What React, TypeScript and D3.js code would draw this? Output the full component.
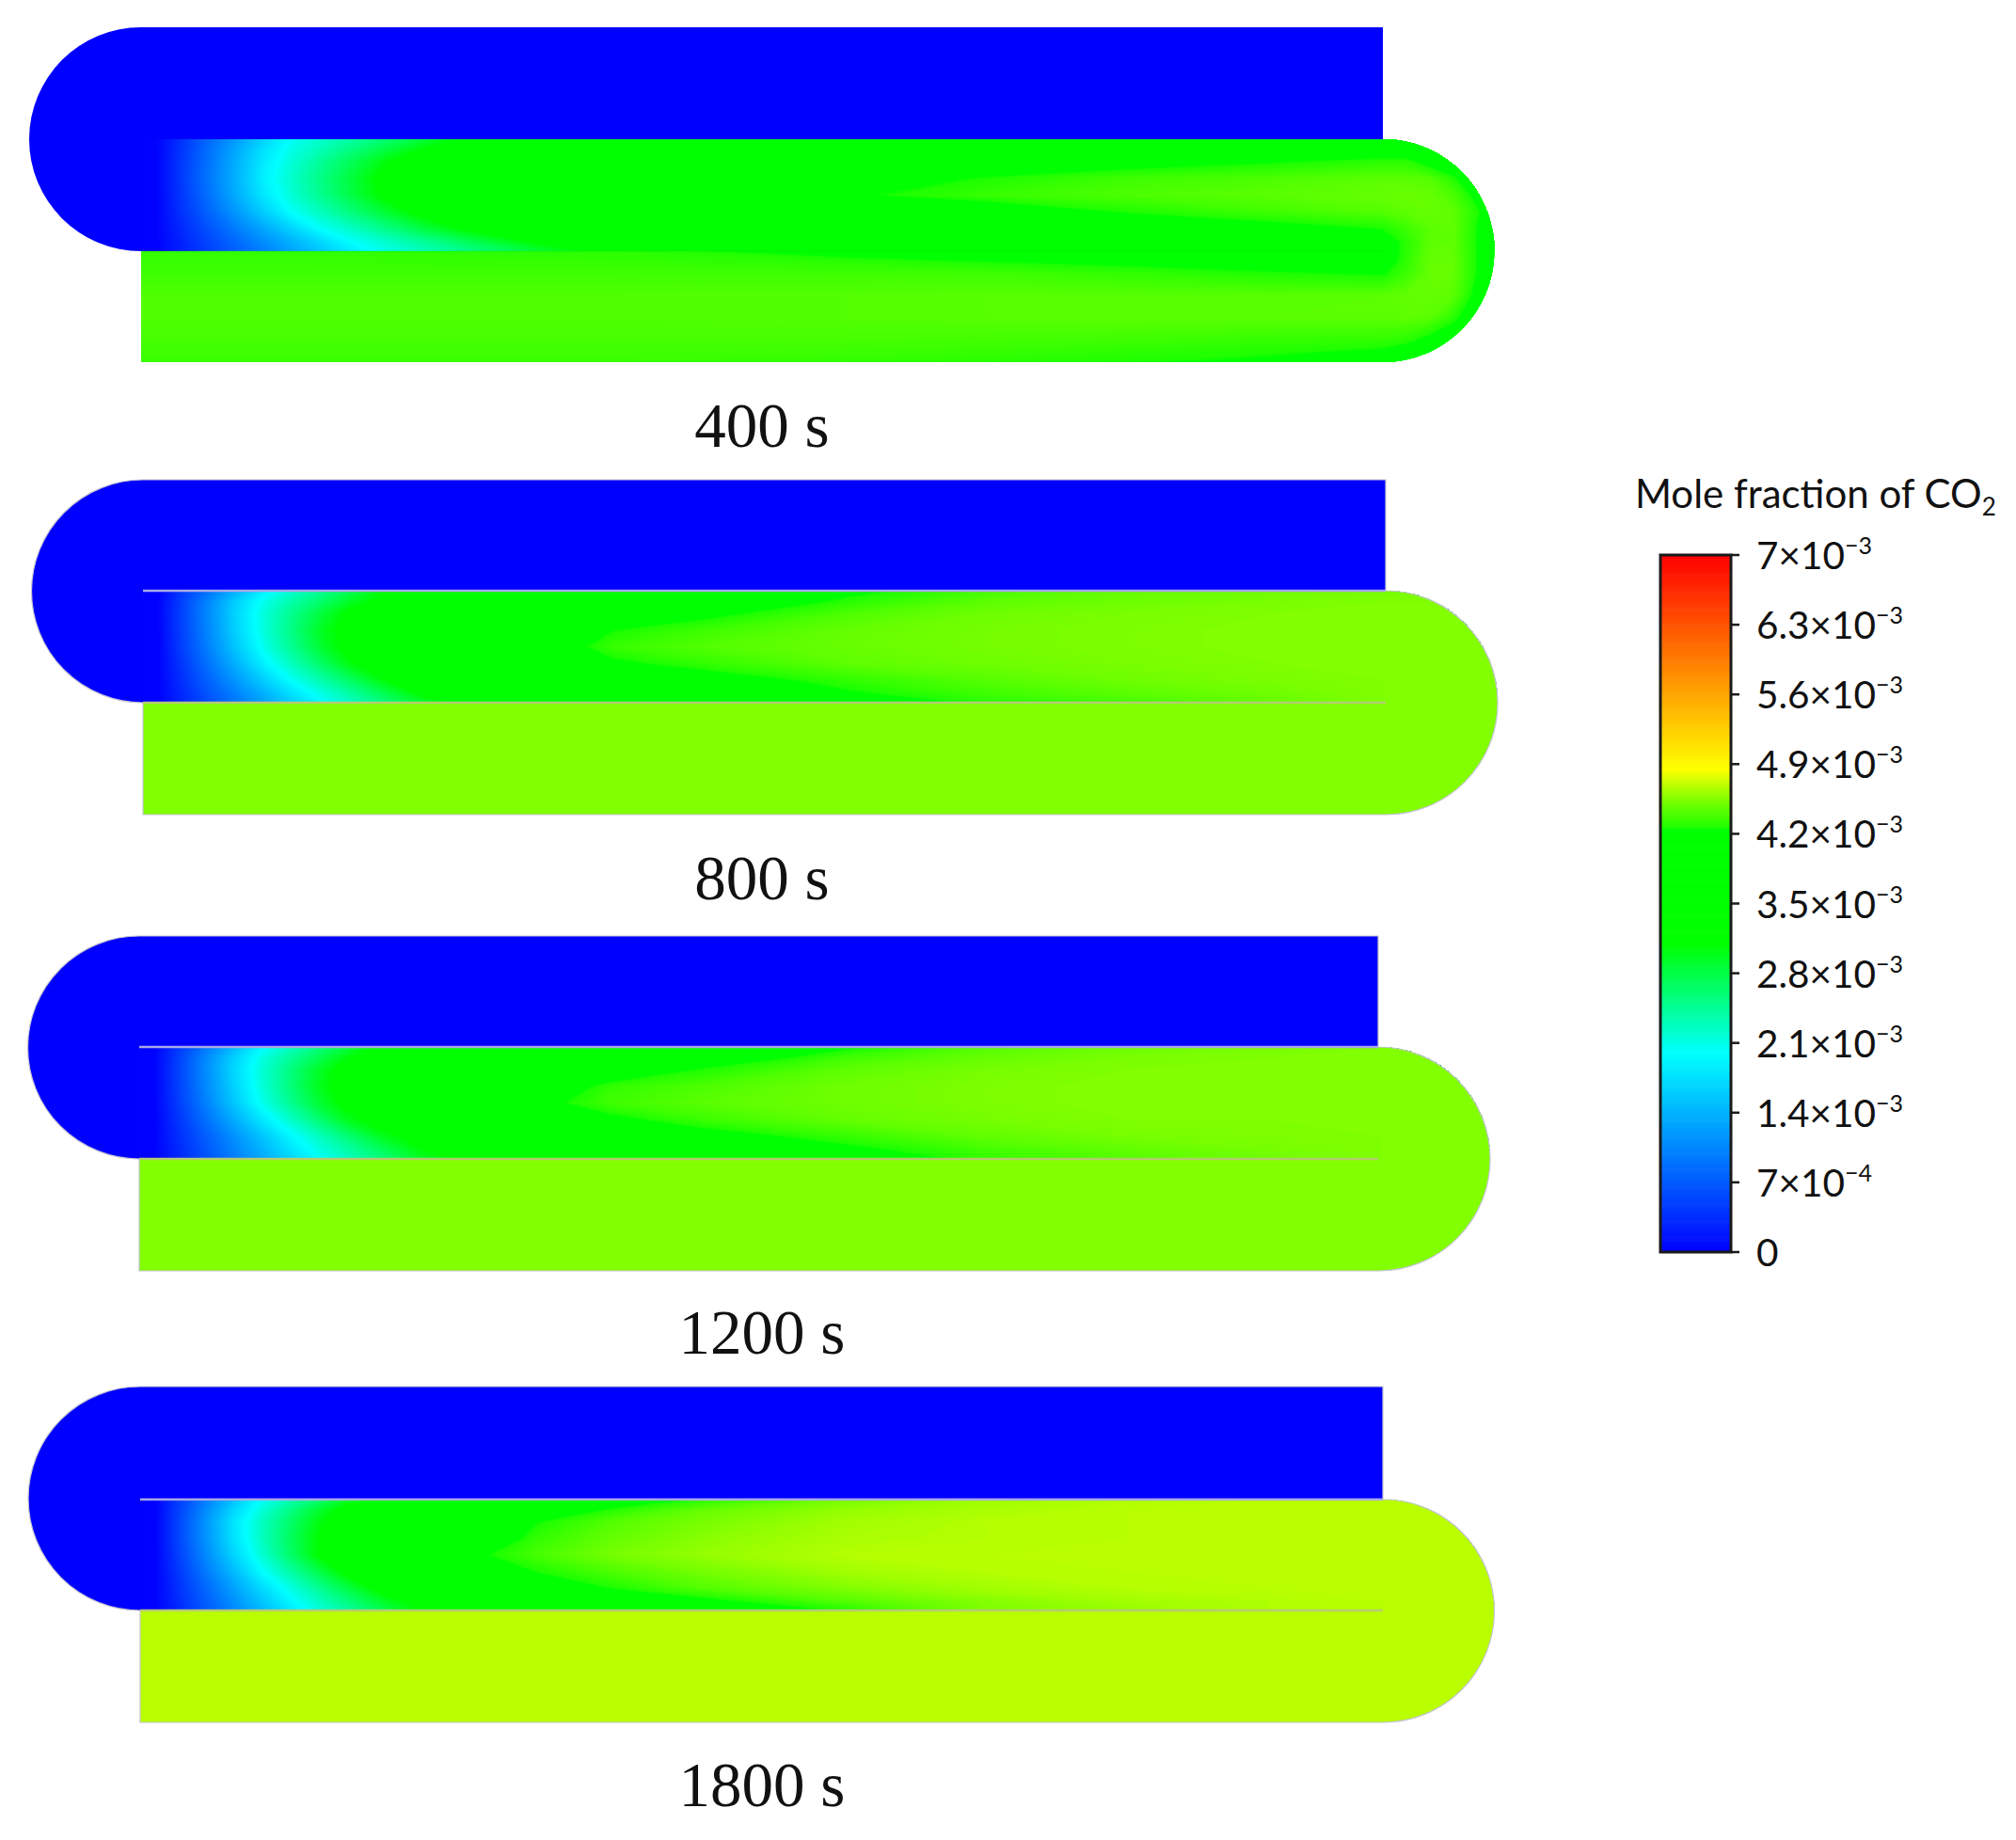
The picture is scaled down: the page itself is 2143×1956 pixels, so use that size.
import * as d3 from 'd3';

// mole fraction values are in units of 1e-3
const colourValues = [0, 2.0, 3.1, 4.25, 4.262, 4.55, 4.85, 7];
const colourStops = ['#0000ff', '#00ffff', '#00ff00', '#00ff00', '#1cff00', '#80ff00', '#ffff00', '#ff0000'];

const barTicks = [0, 0.7, 1.4, 2.1, 2.8, 3.5, 4.2, 4.9, 5.6, 6.3, 7];
const barBases = ['0', '7×10', '1.4×10', '2.1×10', '2.8×10', '3.5×10', '4.2×10', '4.9×10', '5.6×10', '6.3×10', '7×10'];
const barExps = ['', '−4', '−3', '−3', '−3', '−3', '−3', '−3', '−3', '−3', '−3'];

// sample positions: along the channel (px from the wall start), across the channel (share of its height)
const midCols = [0, 15, 40, 70, 100, 130, 160, 190, 220, 260, 300, 350, 420, 500, 600, 750, 900, 1050, 1200, 1320, 1345, 1370, 1395, 1420, 1440];
const midRows = [0, 0.1, 0.2, 0.35, 0.5, 0.65, 0.8, 0.92, 1];
const lowerCols = [0, 500, 750, 900, 1050, 1200, 1320, 1345, 1370, 1395, 1420, 1440];
const lowerRows = [0, 0.1, 0.2, 0.4, 0.6, 0.8, 0.92, 1];
const plainCols = [0, 1440];
const plainRows = [0, 1];

const mid400 = [
  [0, 0, 0.36, 0.79, 1.22, 1.65, 2.03, 2.21, 2.38, 2.61, 2.85, 3.14, 3.4, 3.6, 3.8, 3.95, 4.05, 4.1, 4.1, 4.1, 4.1, 4.1, 4.1, 4.1, 4.1],
  [0, 0, 0.38, 0.85, 1.31, 1.77, 2.11, 2.32, 2.54, 2.83, 3.11, 3.3, 3.5, 3.65, 3.8, 3.95, 4.05, 4.1, 4.15, 4.15, 4.15, 4.1, 4.1, 4.1, 4.1],
  [0, 0, 0.4, 0.88, 1.36, 1.84, 2.17, 2.44, 2.7, 3.05, 3.25, 3.4, 3.55, 3.7, 3.85, 4.0, 4.08, 4.17, 4.24, 4.3, 4.3, 4.18, 4.1, 4.1, 4.1],
  [0, 0, 0.41, 0.9, 1.39, 1.89, 2.22, 2.52, 2.81, 3.2, 3.35, 3.45, 3.6, 3.75, 3.9, 4.15, 4.27, 4.36, 4.4, 4.44, 4.44, 4.42, 4.28, 4.1, 4.1],
  [0, 0, 0.39, 0.86, 1.34, 1.81, 2.18, 2.47, 2.77, 3.16, 3.3, 3.4, 3.6, 3.75, 3.95, 4.23, 4.34, 4.4, 4.44, 4.47, 4.48, 4.47, 4.4, 4.2, 4.1],
  [0, 0, 0.35, 0.77, 1.19, 1.61, 2.02, 2.28, 2.54, 2.88, 3.2, 3.35, 3.5, 3.65, 3.8, 3.95, 4.12, 4.27, 4.36, 4.42, 4.45, 4.47, 4.45, 4.28, 4.1],
  [0, 0, 0.29, 0.63, 0.97, 1.31, 1.66, 2.0, 2.22, 2.51, 2.81, 3.15, 3.4, 3.6, 3.75, 3.9, 4.0, 4.08, 4.18, 4.26, 4.35, 4.44, 4.45, 4.25, 4.1],
  [0, 0, 0.24, 0.53, 0.82, 1.1, 1.39, 1.68, 1.97, 2.21, 2.43, 2.71, 3.1, 3.4, 3.6, 3.8, 3.95, 4.05, 4.1, 4.15, 4.3, 4.44, 4.45, 4.25, 4.1],
  [0, 0, 0.22, 0.49, 0.76, 1.02, 1.29, 1.56, 1.82, 2.09, 2.28, 2.51, 2.84, 3.2, 3.5, 3.8, 3.95, 4.05, 4.1, 4.15, 4.3, 4.46, 4.46, 4.25, 4.1],
];
const lower400 = [
  [4.33, 4.3, 4.2, 4.1, 4.05, 4.1, 4.15, 4.3, 4.46, 4.46, 4.25, 4.1],
  [4.34, 4.33, 4.3, 4.26, 4.22, 4.18, 4.16, 4.32, 4.47, 4.47, 4.25, 4.1],
  [4.36, 4.36, 4.36, 4.36, 4.32, 4.27, 4.24, 4.35, 4.47, 4.47, 4.25, 4.1],
  [4.41, 4.41, 4.42, 4.43, 4.43, 4.43, 4.44, 4.46, 4.47, 4.44, 4.2, 4.1],
  [4.41, 4.41, 4.42, 4.43, 4.44, 4.44, 4.44, 4.45, 4.44, 4.3, 4.1, 4.1],
  [4.38, 4.38, 4.38, 4.37, 4.36, 4.33, 4.32, 4.3, 4.2, 4.1, 4.1, 4.1],
  [4.36, 4.36, 4.35, 4.33, 4.3, 4.27, 4.22, 4.15, 4.1, 4.1, 4.1, 4.1],
  [4.34, 4.34, 4.32, 4.3, 4.27, 4.22, 4.15, 4.1, 4.1, 4.1, 4.1, 4.1],
];

const mid800 = [
  [0, 0, 0.42, 0.92, 1.42, 1.92, 2.22, 2.48, 2.74, 3.09, 3.25, 3.45, 3.6, 3.75, 3.9, 4.2, 4.38, 4.47, 4.5, 4.52, 4.52, 4.52, 4.52, 4.52, 4.52],
  [0, 0, 0.49, 1.07, 1.65, 2.11, 2.39, 2.66, 2.94, 3.2, 3.3, 3.5, 3.7, 3.9, 4.05, 4.3, 4.45, 4.5, 4.53, 4.55, 4.55, 4.55, 4.55, 4.55, 4.55],
  [0, 0, 0.5, 1.1, 1.7, 2.17, 2.51, 2.84, 3.15, 3.3, 3.4, 3.55, 3.75, 4.0, 4.2, 4.4, 4.5, 4.53, 4.55, 4.56, 4.56, 4.56, 4.56, 4.56, 4.56],
  [0, 0, 0.49, 1.08, 1.67, 2.17, 2.56, 2.96, 3.2, 3.3, 3.4, 3.6, 3.95, 4.25, 4.36, 4.47, 4.52, 4.54, 4.56, 4.56, 4.56, 4.56, 4.56, 4.56, 4.56],
  [0, 0, 0.47, 1.03, 1.59, 2.11, 2.5, 2.9, 3.2, 3.3, 3.4, 3.75, 4.1, 4.34, 4.42, 4.48, 4.52, 4.54, 4.56, 4.56, 4.56, 4.56, 4.56, 4.56, 4.56],
  [0, 0, 0.42, 0.92, 1.42, 1.92, 2.31, 2.67, 3.04, 3.25, 3.35, 3.6, 3.95, 4.22, 4.33, 4.45, 4.5, 4.53, 4.55, 4.56, 4.56, 4.56, 4.56, 4.56, 4.56],
  [0, 0, 0.36, 0.79, 1.21, 1.64, 2.05, 2.36, 2.67, 3.09, 3.25, 3.4, 3.7, 3.95, 4.15, 4.32, 4.43, 4.5, 4.53, 4.55, 4.55, 4.55, 4.55, 4.55, 4.55],
  [0, 0, 0.31, 0.68, 1.04, 1.41, 1.78, 2.11, 2.39, 2.77, 3.15, 3.25, 3.5, 3.8, 4.0, 4.23, 4.36, 4.44, 4.5, 4.55, 4.55, 4.55, 4.55, 4.55, 4.55],
  [0, 0, 0.28, 0.62, 0.96, 1.3, 1.64, 1.98, 2.24, 2.58, 2.93, 3.15, 3.35, 3.6, 3.85, 4.1, 4.3, 4.38, 4.47, 4.55, 4.55, 4.55, 4.55, 4.55, 4.55],
];
const lower800 = [[4.55, 4.55], [4.55, 4.55]];

const mid1200 = [
  [0, 0, 0.42, 0.93, 1.44, 1.94, 2.27, 2.54, 2.81, 3.17, 3.3, 3.45, 3.6, 3.75, 3.9, 4.22, 4.42, 4.5, 4.53, 4.55, 4.55, 4.55, 4.55, 4.55, 4.55],
  [0, 0, 0.48, 1.06, 1.63, 2.12, 2.43, 2.74, 3.05, 3.25, 3.35, 3.5, 3.7, 3.9, 4.1, 4.37, 4.48, 4.53, 4.55, 4.55, 4.55, 4.55, 4.55, 4.55, 4.55],
  [0, 0, 0.5, 1.09, 1.68, 2.17, 2.54, 2.91, 3.2, 3.3, 3.4, 3.6, 3.8, 4.05, 4.27, 4.45, 4.52, 4.55, 4.56, 4.56, 4.56, 4.56, 4.56, 4.56, 4.56],
  [0, 0, 0.48, 1.06, 1.63, 2.15, 2.56, 2.97, 3.2, 3.3, 3.4, 3.7, 4.05, 4.32, 4.4, 4.5, 4.54, 4.56, 4.56, 4.56, 4.56, 4.56, 4.56, 4.56, 4.56],
  [0, 0, 0.45, 1.0, 1.55, 2.07, 2.46, 2.86, 3.17, 3.3, 3.45, 3.8, 4.18, 4.36, 4.44, 4.5, 4.54, 4.56, 4.56, 4.56, 4.56, 4.56, 4.56, 4.56, 4.56],
  [0, 0, 0.39, 0.87, 1.34, 1.81, 2.22, 2.59, 2.96, 3.25, 3.35, 3.65, 3.95, 4.2, 4.35, 4.47, 4.52, 4.55, 4.55, 4.56, 4.56, 4.56, 4.56, 4.56, 4.56],
  [0, 0, 0.33, 0.73, 1.13, 1.53, 1.93, 2.26, 2.57, 2.98, 3.2, 3.45, 3.7, 3.95, 4.16, 4.33, 4.46, 4.52, 4.54, 4.55, 4.55, 4.55, 4.55, 4.55, 4.55],
  [0, 0, 0.3, 0.67, 1.04, 1.4, 1.77, 2.1, 2.36, 2.71, 3.06, 3.3, 3.5, 3.8, 4.0, 4.2, 4.37, 4.46, 4.52, 4.55, 4.55, 4.55, 4.55, 4.55, 4.55],
  [0, 0, 0.28, 0.63, 0.97, 1.31, 1.65, 1.99, 2.25, 2.59, 2.93, 3.15, 3.35, 3.6, 3.85, 4.1, 4.32, 4.42, 4.5, 4.55, 4.55, 4.55, 4.55, 4.55, 4.55],
];
const lower1200 = [[4.55, 4.55], [4.55, 4.55]];

const mid1800 = [
  [0, 0, 0.45, 0.98, 1.52, 2.03, 2.33, 2.63, 2.94, 3.2, 3.3, 3.6, 3.8, 4.05, 4.3, 4.52, 4.62, 4.66, 4.68, 4.68, 4.68, 4.68, 4.68, 4.68, 4.68],
  [0, 0, 0.5, 1.1, 1.7, 2.18, 2.54, 2.9, 3.2, 3.35, 3.5, 3.7, 4.0, 4.3, 4.48, 4.6, 4.65, 4.68, 4.68, 4.68, 4.68, 4.68, 4.68, 4.68, 4.68],
  [0, 0, 0.53, 1.17, 1.81, 2.27, 2.65, 3.03, 3.2, 3.35, 3.5, 3.85, 4.24, 4.42, 4.53, 4.63, 4.67, 4.68, 4.68, 4.68, 4.68, 4.68, 4.68, 4.68, 4.68],
  [0, 0, 0.53, 1.16, 1.79, 2.28, 2.7, 3.1, 3.25, 3.4, 3.6, 4.0, 4.32, 4.47, 4.57, 4.65, 4.67, 4.68, 4.68, 4.68, 4.68, 4.68, 4.68, 4.68, 4.68],
  [0, 0, 0.49, 1.08, 1.67, 2.2, 2.65, 3.1, 3.25, 3.4, 3.6, 4.2, 4.38, 4.52, 4.6, 4.67, 4.68, 4.68, 4.68, 4.68, 4.68, 4.68, 4.68, 4.68, 4.68],
  [0, 0, 0.43, 0.96, 1.48, 2.0, 2.39, 2.78, 3.17, 3.3, 3.5, 3.95, 4.26, 4.4, 4.52, 4.63, 4.67, 4.68, 4.68, 4.68, 4.68, 4.68, 4.68, 4.68, 4.68],
  [0, 0, 0.37, 0.82, 1.27, 1.72, 2.12, 2.46, 2.79, 3.24, 3.35, 3.6, 3.95, 4.26, 4.42, 4.55, 4.63, 4.67, 4.68, 4.68, 4.68, 4.68, 4.68, 4.68, 4.68],
  [0, 0, 0.34, 0.74, 1.15, 1.55, 1.95, 2.26, 2.55, 2.93, 3.2, 3.4, 3.7, 3.95, 4.2, 4.42, 4.56, 4.63, 4.66, 4.68, 4.68, 4.68, 4.68, 4.68, 4.68],
  [0, 0, 0.32, 0.7, 1.08, 1.46, 1.84, 2.14, 2.4, 2.75, 3.1, 3.2, 3.5, 3.75, 4.0, 4.28, 4.55, 4.6, 4.66, 4.68, 4.68, 4.68, 4.68, 4.68, 4.68],
];
const lower1800 = [[4.68, 4.68], [4.68, 4.68]];

const panelLabels = ['400 s', '800 s', '1200 s', '1800 s'];

const panels = [
  { id: 'p400', left: 150, right: 1470, top: 29, split: 148, wall: 267, bottom: 385, labelY: 475, mid: mid400, lower: lower400, lc: lowerCols, lr: lowerRows, outline: 'none', wallTop: 'none', wallBottom: 'rgba(0,200,0,0.12)' },
  { id: 'p800', left: 152, right: 1473, top: 510, split: 628, wall: 747, bottom: 866, labelY: 956, mid: mid800, lower: lower800, lc: plainCols, lr: plainRows, outline: '#c4c4d0', wallTop: '#a8a8e8', wallBottom: '#b4cc70' },
  { id: 'p1200', left: 148, right: 1465, top: 995, split: 1113, wall: 1232, bottom: 1351, labelY: 1439, mid: mid1200, lower: lower1200, lc: plainCols, lr: plainRows, outline: '#c4c4d0', wallTop: '#a8a8e8', wallBottom: '#b4cc70' },
  { id: 'p1800', left: 149, right: 1470, top: 1474, split: 1594, wall: 1712, bottom: 1831, labelY: 1920, mid: mid1800, lower: lower1800, lc: plainCols, lr: plainRows, outline: '#c4c4d0', wallTop: '#a8a8e8', wallBottom: '#b8cc70' },
];

const colour = d3.scaleLinear<string>().domain(colourValues).range(colourStops).clamp(true);

const STEP = 0.01;

// filled iso-bands of one sampled field, samples placed on uneven columns and rows
function Field({ values, cols, rows, x0, y0, yLen, clip }: any) {
  const n = cols.length, m = rows.length;
  const flat = values.flat();
  const xScale = d3.scaleLinear().domain(cols.map((_: number, i: number) => i + 0.5)).range(cols.map((c: number) => x0 + c));
  const yScale = d3.scaleLinear().domain(rows.map((_: number, i: number) => i + 0.5)).range(rows.map((r: number) => y0 + r * yLen));
  const path = d3.geoPath(d3.geoTransform({
    point(px: number, py: number) { (this as any).stream.point(xScale(px), yScale(py)); },
  }));
  const lo = d3.min(flat) as number;
  const hi = d3.max(flat) as number;
  const thresholds = d3.range(Math.floor(lo / STEP) * STEP, hi + STEP, STEP);
  const bands = d3.contours().size([n, m]).thresholds(thresholds)(flat);
  return (
    <g clipPath={`url(#${clip})`}>
      {bands.filter((b) => b.coordinates.length).map((b) => (
        <path key={b.value} d={path(b) || ''} fill={colour(b.value + STEP / 2)} />
      ))}
    </g>
  );
}

function Panel({ p, label }: any) {
  const rl = (p.wall - p.top) / 2;
  const rr = (p.bottom - p.split) / 2;
  const blue = `M${p.left},${p.top}H${p.right}V${p.split}H${p.left}V${p.wall}A${rl},${rl} 0 0 1 ${p.left},${p.top}Z`;
  const midShape = `M${p.left},${p.split}H${p.right}A${rr},${rr} 0 0 1 ${p.right + rr},${p.split + rr}V${p.wall}H${p.left}Z`;
  const lowerShape = `M${p.left},${p.wall}H${p.right + rr}V${p.split + rr}A${rr},${rr} 0 0 1 ${p.right},${p.bottom}H${p.left}Z`;
  const outline = `M${p.left},${p.top}H${p.right}V${p.split}A${rr},${rr} 0 0 1 ${p.right},${p.bottom}H${p.left}V${p.wall}A${rl},${rl} 0 0 1 ${p.left},${p.top}Z`;
  return (
    <g>
      <defs>
        <clipPath id={`${p.id}-mid`}><path d={midShape} /></clipPath>
        <clipPath id={`${p.id}-low`}><path d={lowerShape} /></clipPath>
      </defs>
      <path d={blue} fill="#0000ff" />
      <Field values={p.mid} cols={midCols} rows={midRows} x0={p.left} y0={p.split} yLen={p.wall - p.split} clip={`${p.id}-mid`} />
      <Field values={p.lower} cols={p.lc} rows={p.lr} x0={p.left} y0={p.wall} yLen={p.bottom - p.wall} clip={`${p.id}-low`} />
      <path d={outline} fill="none" stroke={p.outline} strokeWidth={1.2} />
      <line x1={p.left} x2={p.right} y1={p.split} y2={p.split} stroke={p.wallTop} strokeWidth={2.5} />
      <line x1={p.left} x2={p.right} y1={p.wall} y2={p.wall} stroke={p.wallBottom} strokeWidth={2.5} />
      <text x={810} y={p.labelY} textAnchor="middle" fontFamily="'Liberation Serif', serif" fontSize={67} fill="#111">{label}</text>
    </g>
  );
}

function ColourBar() {
  const y = d3.scaleLinear().domain([0, 7]).range([1331, 590]);
  const cells = d3.range(0, 7, 0.02);
  const font = "Lato, 'Open Sans', sans-serif";
  return (
    <g>
      <text x={1738} y={540} fontFamily={font} fontSize={42} fill="#111">
        Mole fraction of CO<tspan fontSize={26} dy={8}>2</tspan>
      </text>
      {cells.map((v) => (
        <rect key={v} x={1765} width={75} y={y(v + 0.02)} height={y(v) - y(v + 0.02) + 0.6} fill={colour(v + 0.01)} />
      ))}
      <rect x={1765} y={590} width={75} height={741} fill="none" stroke="#1a1a1a" strokeWidth={3} />
      {barTicks.map((t, i) => (
        <g key={t}>
          <line x1={1840} x2={1849} y1={y(t)} y2={y(t)} stroke="#1a1a1a" strokeWidth={2.5} />
          <text x={1867} y={y(t) + 15} fontFamily={font} fontSize={40.5} fill="#111">
            {barBases[i]}
            {barExps[i] && <tspan fontSize={25} dy={-16}>{barExps[i]}</tspan>}
          </text>
        </g>
      ))}
    </g>
  );
}

export default function App() {
  return (
    <svg width={2143} height={1956} viewBox="0 0 2143 1956" style={{ position: 'absolute', left: 0, top: 0, background: '#fff' }}>
      {panels.map((p, i) => <Panel key={p.id} p={p} label={panelLabels[i]} />)}
      <ColourBar />
    </svg>
  );
}
